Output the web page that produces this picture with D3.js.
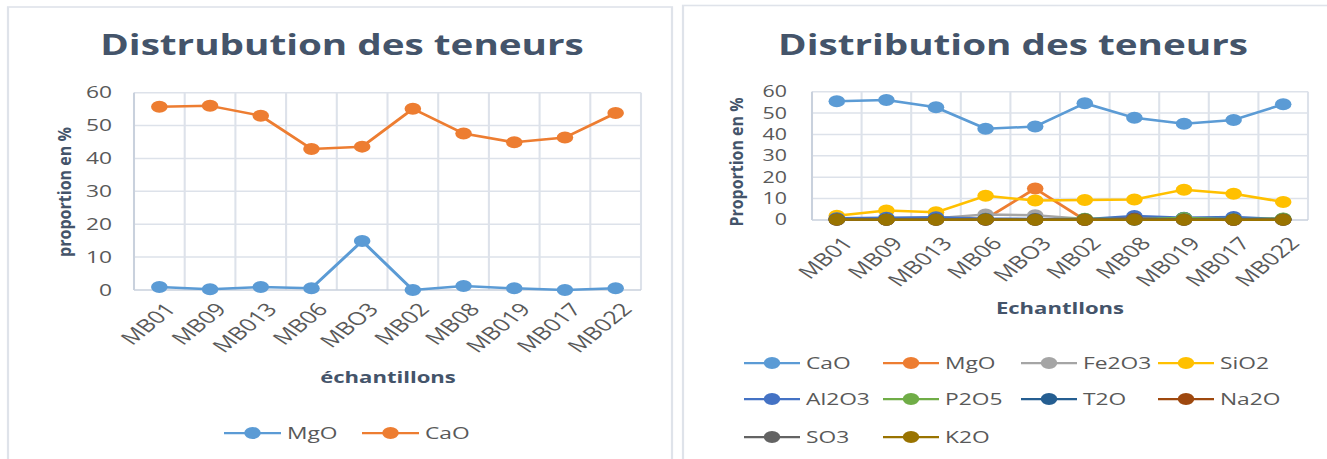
<!DOCTYPE html>
<html>
<head>
<meta charset="utf-8">
<script src="https://cdn.jsdelivr.net/npm/d3@7"></script>
<style>
  html, body { margin: 0; padding: 0; background: #fff; }
  text { font-family: "Open Sans", "DejaVu Sans", sans-serif; }
</style>
</head>
<body>
<svg id="chart" width="1327" height="459"></svg>
<script>
// sample names (same order in both charts)
let samples = ['MB01', 'MB09', 'MB013', 'MB06', 'MBO3', 'MB02', 'MB08', 'MB019', 'MB017', 'MB022'];
let yTickValues = [0, 10, 20, 30, 40, 50, 60];

// left chart
let mgoLeft = [0.9, 0.2, 0.9, 0.5, 14.9, 0.0, 1.2, 0.5, 0.0, 0.5];
let caoLeft = [55.7, 56.0, 53.0, 42.9, 43.6, 55.1, 47.6, 44.9, 46.4, 53.8];

// right chart
let caoRight   = [55.5, 56.1, 52.7, 42.7, 43.7, 54.6, 47.8, 45.0, 46.8, 54.1];
let mgoRight   = [0.9, 0.2, 0.9, 0.5, 14.7, 0.0, 1.2, 0.5, 0.0, 0.5];
let fe2o3Right = [0.6, 0.5, 0.8, 2.6, 2.2, 0.5, 0.8, 0.9, 0.7, 0.6];
let sio2Right  = [2.0, 4.4, 3.6, 11.3, 9.1, 9.4, 9.6, 14.2, 12.3, 8.4];
let al2o3Right = [0.8, 1.0, 1.3, 0.6, 0.5, 0.4, 1.9, 1.0, 1.4, 0.4];
let p2o5Right  = [0.2, 0.2, 0.2, 0.3, 0.2, 0.6, 0.3, 0.9, 0.3, 0.7];
let t2oRight   = [0.1, 0.1, 0.1, 0.1, 0.1, 0.1, 0.1, 0.1, 0.1, 0.1];
let na2oRight  = [0.1, 0.1, 0.1, 0.1, 0.1, 0.1, 0.6, 0.1, 0.1, 0.1];
let so3Right   = [0.3, 0.2, 0.3, 0.4, 0.3, 0.2, 0.3, 0.2, 0.2, 0.2];
let k2oRight   = [0.2, 0.1, 0.1, 0.2, 0.1, 0.1, 0.1, 0.1, 0.1, 0.1];

// the picture is stretched sideways, so everything is drawn in a scaled group
let S = 1.38;
let u = x => x / S;

let svg = d3.select('#chart');
svg.append('rect').attr('width', 1327).attr('height', 459).style('fill', '#fff');
let g = svg.append('g').attr('transform', `scale(${S},1)`);
let flat = svg.append('g');   // for text that is not stretched

let titleColor = '#44546a';
let tickColor = '#595959';

function drawPanel(cfg) {
  // frame
  g.append('rect')
    .attr('x', u(cfg.frame[0])).attr('y', cfg.frame[1])
    .attr('width', u(cfg.frame[2] - cfg.frame[0])).attr('height', 500)
    .style('fill', 'none').style('stroke', '#dfe3ea').style('stroke-width', 1.6);

  g.append('text')
    .attr('x', u(cfg.titleX)).attr('y', 55)
    .attr('text-anchor', 'middle')
    .style('font-size', '28px').style('font-weight', 'bold')
    .style('fill', titleColor)
    .text(cfg.title);

  let x = d3.scaleBand().domain(samples).range([u(cfg.plot[0]), u(cfg.plot[1])]);
  let y = d3.scaleLinear().domain([0, 60]).range([cfg.plot[3], cfg.plot[2]]);

  // grid
  g.append('g').selectAll('line.h')
    .data(yTickValues.slice(1))
    .enter().append('line')
    .attr('x1', x.range()[0]).attr('x2', x.range()[1])
    .attr('y1', d => y(d)).attr('y2', d => y(d))
    .style('stroke', '#dde2ea').style('stroke-width', 1.5);

  g.append('g').selectAll('line.v')
    .data(samples)
    .enter().append('line')
    .attr('x1', d => x(d) + x.bandwidth()).attr('x2', d => x(d) + x.bandwidth())
    .attr('y1', y(60)).attr('y2', y(0))
    .style('stroke', '#dde2ea').style('stroke-width', 1.5);

  // axis lines
  g.append('line')
    .attr('x1', x.range()[0]).attr('x2', x.range()[0])
    .attr('y1', y(60)).attr('y2', y(0))
    .style('stroke', '#c9d1dd').style('stroke-width', 1.5);
  g.append('line')
    .attr('x1', x.range()[0]).attr('x2', x.range()[1])
    .attr('y1', y(0)).attr('y2', y(0))
    .style('stroke', '#c9d1dd').style('stroke-width', 1.5);

  // y axis labels
  let yAxis = g.append('g')
    .attr('transform', `translate(${u(cfg.yLabelX)},0)`)
    .call(d3.axisLeft(y).tickValues(yTickValues).tickSize(0).tickPadding(0));
  yAxis.select('.domain').remove();
  yAxis.selectAll('text')
    .style('font-family', '"Open Sans", sans-serif')
    .style('font-size', cfg.tickSize + 'px')
    .style('fill', tickColor);

  // x axis labels, rotated
  let xAxis = g.append('g')
    .attr('transform', `translate(0,${cfg.xLabelY})`)
    .call(d3.axisBottom(x).tickSize(0).tickPadding(0));
  xAxis.select('.domain').remove();
  xAxis.selectAll('text')
    .attr('y', 0).attr('dy', '0.75em')
    .attr('x', 4)
    .attr('transform', 'rotate(-48)')
    .attr('text-anchor', 'end')
    .style('font-family', '"Open Sans", sans-serif')
    .style('font-size', '18px')
    .style('fill', tickColor);

  // axis titles
  flat.append('text')
    .attr('transform', `translate(${cfg.yTitle[0]},${cfg.yTitle[1]}) rotate(-90)`)
    .attr('text-anchor', 'middle')
    .attr('dominant-baseline', 'central')
    .attr('textLength', cfg.yTitle[2])
    .attr('lengthAdjust', 'spacingAndGlyphs')
    .style('font-size', '18px').style('font-weight', 'bold')
    .style('fill', titleColor)
    .text(cfg.yTitleText);

  g.append('text')
    .attr('x', u(cfg.xTitle[0])).attr('y', cfg.xTitle[1])
    .attr('text-anchor', 'middle')
    .style('font-size', '16px').style('font-weight', 'bold')
    .style('fill', titleColor)
    .text(cfg.xTitleText);

  // series
  let line = d3.line()
    .x((d, i) => x(samples[i]) + x.bandwidth() / 2)
    .y(d => y(d));

  cfg.series.forEach(s => {
    let sg = g.append('g');
    sg.append('path')
      .attr('d', line(s.values))
      .style('fill', 'none')
      .style('stroke', s.color)
      .style('stroke-width', 2.5)
      .style('stroke-linejoin', 'round');
    sg.selectAll('circle')
      .data(s.values)
      .enter().append('circle')
      .attr('cx', (d, i) => x(samples[i]) + x.bandwidth() / 2)
      .attr('cy', d => y(d))
      .attr('r', 6)
      .style('fill', s.color);
  });

  // legend
  cfg.series.forEach((s, i) => {
    let pos = cfg.legendPos(i);
    let lg = g.append('g');
    lg.append('line')
      .attr('x1', u(pos[0])).attr('x2', u(pos[0] + cfg.legendLine))
      .attr('y1', pos[1]).attr('y2', pos[1])
      .style('stroke', s.color).style('stroke-width', 2.25);
    lg.append('circle')
      .attr('cx', u(pos[0] + cfg.legendLine / 2)).attr('cy', pos[1])
      .attr('r', 6).style('fill', s.color);
    lg.append('text')
      .attr('x', u(pos[0] + cfg.legendLine + 6)).attr('y', pos[1])
      .attr('dy', '0.36em')
      .style('font-size', '16.5px')
      .style('fill', tickColor)
      .text(s.name);
  });
}

drawPanel({
  frame: [8, 7, 672],
  title: 'Distrubution des teneurs',
  titleX: 342,
  plot: [134, 641, 92.7, 290],
  yLabelX: 112,
  tickSize: 16.5,
  xLabelY: 304,
  yTitle: [64, 192, 130],
  yTitleText: 'proportion en %',
  xTitle: [388, 383],
  xTitleText: 'échantillons',
  series: [
    {name: 'MgO', values: mgoLeft, color: '#5b9bd5'},
    {name: 'CaO', values: caoLeft, color: '#ed7d31'}
  ],
  legendLine: 57,
  legendPos: i => [[224, 362][i], 433]
});

let legendCols = [744, 883, 1021, 1158];
let legendRows = [363, 399, 437];

drawPanel({
  frame: [683, 5.5, 1340],
  title: 'Distribution des teneurs',
  titleX: 1013,
  plot: [812, 1308, 91.7, 220],
  yLabelX: 787,
  tickSize: 15.5,
  xLabelY: 238,
  yTitle: [736, 162, 129],
  yTitleText: 'Proportion en %',
  xTitle: [1060, 314],
  xTitleText: 'Echantllons',
  series: [
    {name: 'CaO', values: caoRight, color: '#5b9bd5'},
    {name: 'MgO', values: mgoRight, color: '#ed7d31'},
    {name: 'Fe2O3', values: fe2o3Right, color: '#a5a5a5'},
    {name: 'SiO2', values: sio2Right, color: '#ffc000'},
    {name: 'Al2O3', values: al2o3Right, color: '#4472c4'},
    {name: 'P2O5', values: p2o5Right, color: '#70ad47'},
    {name: 'T2O', values: t2oRight, color: '#255e91'},
    {name: 'Na2O', values: na2oRight, color: '#9e480e'},
    {name: 'SO3', values: so3Right, color: '#636363'},
    {name: 'K2O', values: k2oRight, color: '#997300'}
  ],
  legendLine: 56,
  legendPos: i => [legendCols[i % 4], legendRows[Math.floor(i / 4)]]
});
</script>
</body>
</html>
